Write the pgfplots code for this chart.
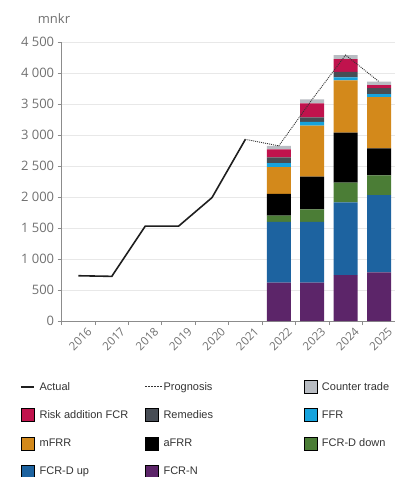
\documentclass[border=0pt]{standalone}
\usepackage{pgfplots}
\pgfplotsset{compat=1.18}
\usepackage{fontspec}
\setmainfont{Open Sans}
\newfontfamily\legfont{Liberation Sans}
\definecolor{cFCRN}{HTML}{5C2569}
\definecolor{cFCRDup}{HTML}{1D63A0}
\definecolor{cFCRDdown}{HTML}{4B7D36}
\definecolor{caFRR}{HTML}{000000}
\definecolor{cmFRR}{HTML}{D3891B}
\definecolor{cFFR}{HTML}{16A3DD}
\definecolor{cRem}{HTML}{474D55}
\definecolor{cRisk}{HTML}{C0134D}
\definecolor{cCT}{HTML}{B8BCC2}
\definecolor{axisgray}{HTML}{8C8C8C}
\definecolor{gridgray}{HTML}{E8E8E8}
\definecolor{labgray}{HTML}{707070}
\definecolor{legtext}{HTML}{333333}
\pgfplotsset{
  barleg/.style={legend image code/.code={\fill[##1] (0pt,-6.5pt) rectangle (13pt,6.5pt); \path (18pt,0pt);}},
  actleg/.style={legend image code/.code={\draw[##1] (0pt,0pt) -- (13pt,0pt); \path (18pt,0pt);}},
  progleg/.style={legend image code/.code={\draw[##1, line width=1pt, dash pattern=on 2pt off 1pt] (0pt,0pt) -- (17pt,0pt); \path (18pt,0pt);}},
}
\begin{document}
\begin{tikzpicture}
\begin{axis}[
  at={(0,0)}, anchor=south west, scale only axis,
  width=334pt, height=279pt,
  xmin=-0.5, xmax=9.5, ymin=0, ymax=4500,
  ybar stacked, bar width=24pt,
  axis lines=left, axis line style={-, draw=axisgray, line width=0.8pt},
  ytick={0,500,...,4500}, ymajorgrids, grid style={draw=gridgray, line width=0.6pt},
  xtick={-0.5,0.5,1.5,2.5,3.5,4.5,5.5,6.5,7.5,8.5}, xticklabels={},
  extra x ticks={0,1,2,3,4,5,6,7,8,9},
  extra x tick labels={2016,2017,2018,2019,2020,2021,2022,2023,2024,2025},
  extra x tick style={major tick length=0pt, grid=none,
    xticklabel style={rotate=45, anchor=east, inner sep=0pt, xshift=2pt, yshift=-14pt,
      font=\fontsize{11.5}{12}\selectfont}},
  tick align=outside, major tick length=4pt,
  tick style={draw=axisgray, line width=0.8pt},
  tick label style={font=\fontsize{13}{13}\selectfont, text=labgray},
  /pgf/number format/assume math mode=true,
  /pgf/number format/1000 sep={\ },
]
\addplot[fill=cFCRN, draw=none] coordinates {(6,620) (7,620) (8,740) (9,785)};
\addplot[fill=cFCRDup, draw=none] coordinates {(6,980) (7,980) (8,1175) (9,1245)};
\addplot[fill=cFCRDdown, draw=none] coordinates {(6,100) (7,200) (8,315) (9,320)};
\addplot[fill=caFRR, draw=none] coordinates {(6,350) (7,530) (8,810) (9,435)};
\addplot[fill=cmFRR, draw=none] coordinates {(6,430) (7,820) (8,840) (9,825)};
\addplot[fill=cFFR, draw=none] coordinates {(6,65) (7,60) (8,50) (9,50)};
\addplot[fill=cRem, draw=none] coordinates {(6,95) (7,75) (8,90) (9,95)};
\addplot[fill=cRisk, draw=none] coordinates {(6,130) (7,225) (8,205) (9,50)};
\addplot[fill=cCT, draw=none] coordinates {(6,55) (7,65) (8,65) (9,55)};
\end{axis}
\begin{axis}[
  at={(0,0)}, anchor=south west, scale only axis,
  width=334pt, height=279pt,
  xmin=-0.5, xmax=9.5, ymin=0, ymax=4500,
  axis lines=none, clip=false,
  legend columns=3,
  legend cell align=left,
  legend style={at={(axis description cs:0,0)}, anchor=north west,
    xshift=-41.7pt, yshift=-59.2pt, draw=none, fill=none,
    inner sep=0pt, outer sep=0pt, row sep=14.8pt, column sep=0pt,
    font=\legfont\fontsize{11}{12}\selectfont, text=legtext,
    nodes={inner sep=0pt}},
]
\addplot[actleg, draw=black!88, line width=1.6pt] coordinates {(0,730) (1,720) (2,1530) (3,1530) (4,1990) (5,2930)};
\addlegendentry{\makebox[105pt][l]{Actual}}
\addplot[progleg, draw=black!80, line width=0.9pt, dash pattern=on 1pt off 1pt] coordinates {(5,2930) (6,2825) (7,3575) (8,4290) (9,3860)};
\addlegendentry{\makebox[140pt][l]{Prognosis}}
\addlegendimage{barleg, fill=cCT}
\addlegendentry{Counter trade}
\addlegendimage{barleg, fill=cRisk}
\addlegendentry{\makebox[105pt][l]{Risk addition FCR}}
\addlegendimage{barleg, fill=cRem}
\addlegendentry{\makebox[140pt][l]{Remedies}}
\addlegendimage{barleg, fill=cFFR}
\addlegendentry{FFR}
\addlegendimage{barleg, fill=cmFRR}
\addlegendentry{\makebox[105pt][l]{mFRR}}
\addlegendimage{barleg, fill=caFRR}
\addlegendentry{\makebox[140pt][l]{aFRR}}
\addlegendimage{barleg, fill=cFCRDdown}
\addlegendentry{FCR-D down}
\addlegendimage{barleg, fill=cFCRDup}
\addlegendentry{\makebox[105pt][l]{FCR-D up}}
\addlegendimage{barleg, fill=cFCRN}
\addlegendentry{\makebox[140pt][l]{FCR-N}}
\end{axis}
\node[anchor=base, font=\fontsize{13}{13}\selectfont, text=labgray] at (-7.7pt,297pt) {mnkr};
\pgfresetboundingbox
\path[use as bounding box] (-61.7pt,-156pt) rectangle (332.3pt,321pt);
\end{tikzpicture}
\end{document}
